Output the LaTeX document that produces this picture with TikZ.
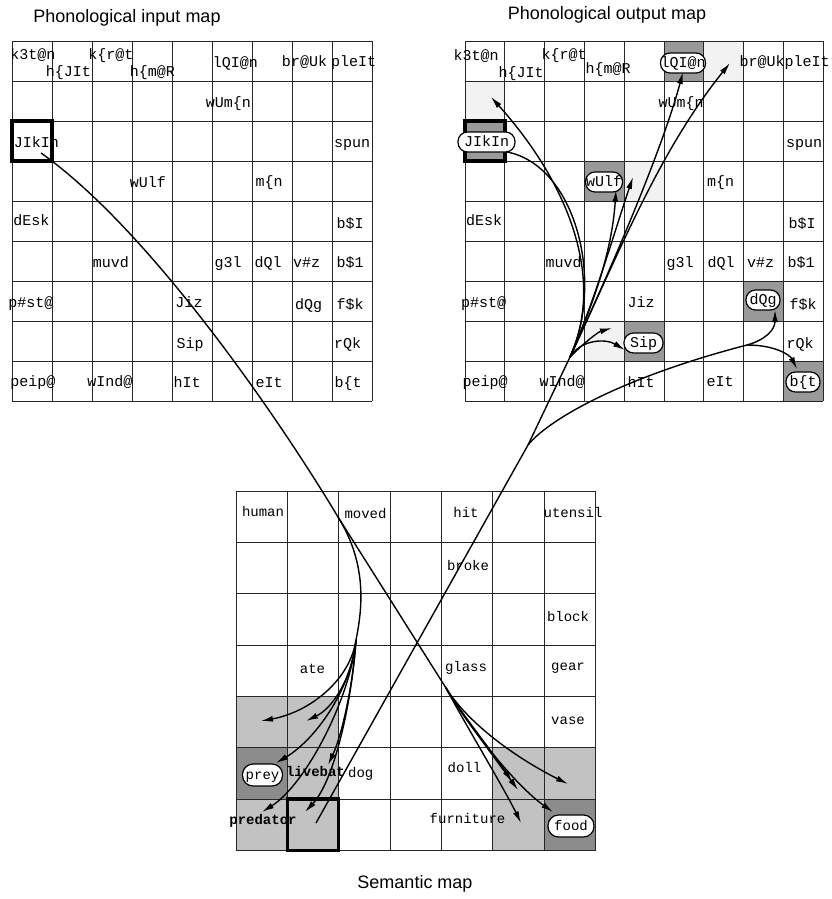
\documentclass[tikz,border=0pt]{standalone}
\usepackage{fontspec}
\setmainfont{Liberation Sans}
\newfontfamily\cour{Liberation Mono}
\usetikzlibrary{arrows.meta}
\definecolor{odark}{gray}{0.60}
\definecolor{olight}{gray}{0.95}
\definecolor{smid}{gray}{0.76}
\definecolor{sdark}{gray}{0.55}
\begin{document}
\begin{tikzpicture}[x=1pt,y=-1pt,
  lab/.style={font=\cour\fontsize{15}{15}\selectfont, inner sep=0pt, text height=8.5pt, text depth=0pt, anchor=center},
  slab/.style={font=\cour\fontsize{14}{14}\selectfont, inner sep=0pt, text height=8pt, text depth=0pt, anchor=center},
  blab/.style={font=\cour\bfseries\fontsize{14}{14}\selectfont, inner sep=0pt, text height=8pt, text depth=0pt, anchor=center},
  oval/.style={draw, fill=white, rounded corners=9.5pt, line width=1.2pt, inner xsep=2pt, inner ysep=0pt, minimum height=20pt},
  titl/.style={font=\fontsize{18}{18}\selectfont, inner sep=0pt},
  gridl/.style={line width=0.9pt, draw=black!85},
  conn/.style={line width=1.4pt},
  arr/.style={conn, -{Latex[length=12pt,width=6pt]}},
  boldbox/.style={line width=3.5pt},
]
\useasboundingbox (0,0) rectangle (832,899);

% ---------- titles
\node[titl] (t1) at (127,18) {Phonological input map};
\node[titl] (t2) at (607,15) {Phonological output map};
\node[titl] (t3) at (415,884) {Semantic map};

% ---------- shaded cells, output map
\def\ox{465}\def\ow{39.8}\def\oy{41}\def\oh{40}
\foreach \c/\r in {0/1,4/3,6/0,3/7} \fill[olight] ({\ox+\ow*\c},{\oy+\oh*\r}) rectangle +(\ow,\oh);
\foreach \c/\r in {0/2,3/3,5/0,4/7,7/6,8/8} \fill[odark] ({\ox+\ow*\c},{\oy+\oh*\r}) rectangle +(\ow,\oh);
% ---------- shaded cells, semantic map
\def\sx{236}\def\sw{51.37}\def\sy{491}\def\sh{51.36}
\foreach \c/\r in {0/4,1/4,1/5,0/6,1/6,5/5,6/5,5/6} \fill[smid] ({\sx+\sw*\c},{\sy+\sh*\r}) rectangle +(\sw,\sh);
\foreach \c/\r in {0/5,6/6} \fill[sdark] ({\sx+\sw*\c},{\sy+\sh*\r}) rectangle +(\sw,\sh);

% ---------- grids
\foreach \i in {0,...,9} {
  \draw[gridl] ({12+40*\i},41) -- ({12+40*\i},401);
  \draw[gridl] (12,{41+40*\i}) -- (372,{41+40*\i});
  \draw[gridl] ({\ox+\ow*\i},41) -- ({\ox+\ow*\i},401);
  \draw[gridl] (\ox,{41+40*\i}) -- ({\ox+\ow*9},{41+40*\i});
}
\foreach \i in {0,...,7} {
  \draw[gridl] ({\sx+\sw*\i},\sy) -- ({\sx+\sw*\i},{\sy+\sh*7});
  \draw[gridl] (\sx,{\sy+\sh*\i}) -- ({\sx+\sw*7},{\sy+\sh*\i});
}
% ---------- bold boxes
\draw[boldbox] (12,121) rectangle (52,161);
\draw[boldbox] (\ox,121) rectangle ({\ox+\ow},161);
\draw[boldbox] ({\sx+\sw},{\sy+6*\sh}) rectangle ({\sx+2*\sw},{\sy+7*\sh});

% ---------- connector points
\coordinate (inS) at (41,153);
\coordinate (semP) at (338,517);
\coordinate (A0) at (356,640);
\coordinate (B0) at (446,688);
\coordinate (semS) at (316,823);
\coordinate (fk) at (528,445);
\coordinate (Q) at (570,357);
\coordinate (G) at (747,345);
% tips, semantic branch A
\coordinate (a1) at (261,721);
\coordinate (a2) at (306,721);
\coordinate (a3) at (276,763);
\coordinate (a4) at (328,765);
\coordinate (a5) at (262,812);
\coordinate (a6) at (305,812);
% tips, semantic branch B
\coordinate (b1) at (568,784);
\coordinate (b2) at (553,812);
\coordinate (b3) at (512,782);
\coordinate (b4) at (518,790);
\coordinate (b5) at (521,823);
% tips, output map
\coordinate (u1) at (612,328);
\coordinate (u2) at (625,350);
\coordinate (u3) at (491,97);
\coordinate (u4) at (507,152);
\coordinate (u5) at (616,190);
\coordinate (u6) at (633,177);
\coordinate (u7) at (683,72);
\coordinate (u8) at (730,63);
\coordinate (r1) at (775,310);
\coordinate (r2) at (797,369);

% ---------- input -> semantic
\draw[conn] (inS) .. controls (150,230) and (280,420) .. (semP);
\draw[conn] (semP) .. controls (368,565) and (362,610) .. (A0);
\draw[arr] (A0) .. controls (350,680) and (310,712) .. (a1);
\draw[arr] (A0) .. controls (352,678) and (333,708) .. (a2);
\draw[arr] (A0) .. controls (351,690) and (315,740) .. (a3);
\draw[arr] (A0) .. controls (353,685) and (342,735) .. (a4);
\draw[arr] (A0) .. controls (350,700) and (305,785) .. (a5);
\draw[arr] (A0) .. controls (352,700) and (335,780) .. (a6);
\draw[conn] (semP) -- (B0);
\draw[arr] (B0) .. controls (470,726) and (520,760) .. (b1);
\draw[arr] (B0) .. controls (468,726) and (515,785) .. (b2);
\draw[arr] (B0) .. controls (466,720) and (495,755) .. (b3);
\draw[arr] (B0) .. controls (467,722) and (500,765) .. (b4);
\draw[arr] (B0) .. controls (464,722) and (505,790) .. (b5);

% ---------- semantic -> output
\draw[conn] (semS) -- (fk);
\draw[conn] (fk) -- (Q);
\draw[conn] (fk) .. controls (548,420) and (620,378) .. (G);
\draw[arr] (G) .. controls (765,340) and (775,330) .. (r1);
\draw[arr] (G) .. controls (775,345) and (790,355) .. (r2);
\draw[arr] (Q) .. controls (585,342) and (598,332) .. (u1);
\draw[arr] (Q) .. controls (580,340) and (605,338) .. (u2);
\draw[arr] (Q) .. controls (605,280) and (570,185) .. (u3);
\draw[conn] (Q) .. controls (605,280) and (575,165) .. (u4);
\draw[arr] (Q) .. controls (595,300) and (612,250) .. (u5);
\draw[arr] (Q) .. controls (595,300) and (615,230) .. (u6);
\draw[arr] (Q) .. controls (620,250) and (665,140) .. (u7);
\draw[arr] (Q) .. controls (620,250) and (660,150) .. (u8);

% ---------- input map labels
\node[lab] (i1) at (33,55) {k3t@n};
\node[lab] (i2) at (68.5,72) {h\{JIt};
\node[lab] (i3) at (111,55) {k\{r@t};
\node[lab] (i4) at (152.5,72) {h\{m@R};
\node[lab] (i5) at (235.5,63) {lQI@n};
\node[lab] (i6) at (304.5,62) {br@Uk};
\node[lab] (i7) at (353.5,62) {pleIt};
\node[lab] (i8) at (228.5,103) {wUm\{n};
\node[lab] (i9) at (36.5,143) {JIkIn};
\node[lab] (i10) at (352,143) {spun};
\node[lab] (i11) at (148,183) {wUlf};
\node[lab] (i12) at (269,182) {m\{n};
\node[lab] (i13) at (31.5,221) {dEsk};
\node[lab] (i14) at (350,224) {b\$I};
\node[lab] (i15) at (111,263) {muvd};
\node[lab] (i16) at (228,263) {g3l};
\node[lab] (i17) at (268,263) {dQl};
\node[lab] (i18) at (306.7,263) {v\#z};
\node[lab] (i19) at (350,263) {b\$1};
\node[lab] (i20) at (31,303) {p\#st@};
\node[lab] (i21) at (189,303) {Jiz};
\node[lab] (i22) at (308.5,305) {dQg};
\node[lab] (i23) at (350,305) {f\$k};
\node[lab] (i24) at (190,344) {Sip};
\node[lab] (i25) at (347.5,344) {rQk};
\node[lab] (i26) at (33,382) {peip@};
\node[lab] (i27) at (110,382) {wInd@};
\node[lab] (i28) at (187,383) {hIt};
\node[lab] (i29) at (269,383) {eIt};
\node[lab] (i30) at (348,383) {b\{t};

% ---------- output map labels
\node[lab] (o1) at (476,56) {k3t@n};
\node[lab] (o2) at (521,73) {h\{JIt};
\node[lab] (o3) at (564,55) {k\{r@t};
\node[lab] (o4) at (608,69) {h\{m@R};
\node[lab,oval,minimum width=43pt,inner xsep=0pt] (o5) at (683,63) {lQI@n};
\node[lab] (o6) at (762,62) {br@Uk};
\node[lab] (o7) at (807,62) {pleIt};
\node[lab] (o8) at (681,103) {wUm\{n};
\node[lab,oval,minimum width=57pt] (o9) at (486.5,142) {JIkIn};
\node[lab] (o10) at (804,143) {spun};
\node[lab,oval,minimum width=37pt,inner xsep=0pt] (o11) at (604,182) {wUlf};
\node[lab] (o12) at (720.5,182) {m\{n};
\node[lab] (o13) at (484,221) {dEsk};
\node[lab] (o14) at (802,224) {b\$I};
\node[lab] (o15) at (563.5,263) {muvd};
\node[lab] (o16) at (680,263) {g3l};
\node[lab] (o17) at (721,263) {dQl};
\node[lab] (o18) at (760.5,263) {v\#z};
\node[lab] (o19) at (801,263) {b\$1};
\node[lab] (o20) at (483.5,303) {p\#st@};
\node[lab] (o21) at (641,303) {Jiz};
\node[lab,oval,minimum width=34pt,inner xsep=0pt] (o22) at (763,300) {dQg};
\node[lab] (o23) at (803,305) {f\$k};
\node[lab,oval,minimum width=39pt,inner xsep=0pt] (o24) at (643.5,343) {Sip};
\node[lab] (o25) at (800,344) {rQk};
\node[lab] (o26) at (485,382) {peip@};
\node[lab] (o27) at (562,382) {wInd@};
\node[lab] (o28) at (641,383) {hIt};
\node[lab] (o29) at (720,382) {eIt};
\node[lab,oval,minimum width=34pt,inner xsep=0pt] (o30) at (803,382) {b\{t};

% ---------- semantic map labels
\node[slab] (s1) at (263,512) {human};
\node[slab] (s2) at (365.5,514) {moved};
\node[slab] (s3) at (466,513) {hit};
\node[slab] (s4) at (573,513) {utensil};
\node[slab] (s5) at (468,566) {broke};
\node[slab] (s6) at (568,617) {block};
\node[slab] (s7) at (312.5,669) {ate};
\node[slab] (s8) at (466,667) {glass};
\node[slab] (s9) at (568,666) {gear};
\node[slab] (s10) at (568,720) {vase};
\node[slab] (s11) at (464.5,768) {doll};
\node[slab] (s12) at (467.5,819) {furniture};
\node[slab,oval,minimum width=46pt,minimum height=22pt,rounded corners=10.5pt] (s13) at (571,826) {food};
\node[slab,oval,minimum width=40pt,minimum height=22pt,rounded corners=10.5pt] (s14) at (262.5,775) {prey};
\node[blab] (s15) at (315.5,772) {livebat};
\node[slab] (s16) at (360.7,773) {dog};
\node[blab] (s17) at (263,820) {predator};
\end{tikzpicture}
\end{document}
